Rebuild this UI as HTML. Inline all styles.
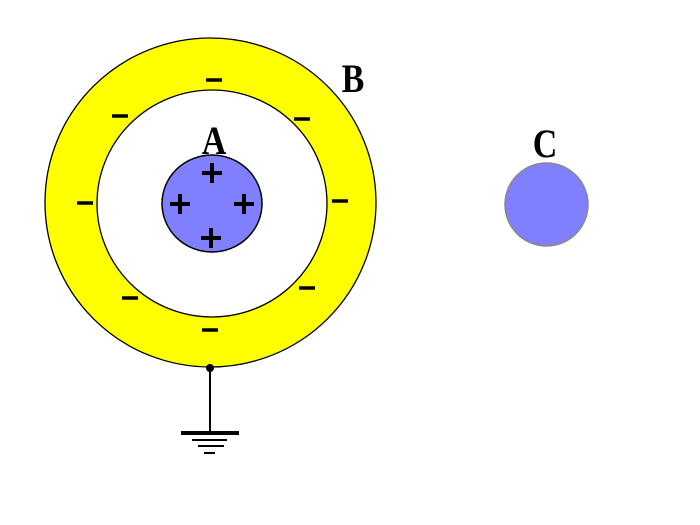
<!DOCTYPE html>
<html><head><meta charset="utf-8"><style>
html,body{margin:0;padding:0;background:#fff;}
svg{display:block;}
text{font-family:"Liberation Serif",serif;font-weight:bold;}
</style></head><body>
<svg width="700" height="525" viewBox="0 0 700 525" xmlns="http://www.w3.org/2000/svg">
<rect width="700" height="525" fill="#fff"/>
<ellipse cx="210.5" cy="202.5" rx="165.5" ry="164.5" fill="#ffff00" stroke="#000" stroke-width="1.3"/>
<ellipse cx="212" cy="203.5" rx="115" ry="113.5" fill="#fff" stroke="#000" stroke-width="1.3"/>
<ellipse cx="212" cy="203.5" rx="50" ry="48.5" fill="#8080ff" stroke="#000" stroke-width="1.5"/>
<ellipse cx="546.5" cy="204.5" rx="41.5" ry="41.5" fill="#8080ff" stroke="#888" stroke-width="1.5"/>
<g stroke="#000" stroke-width="3.5">
<line x1="206" y1="80" x2="222" y2="80"/>
<line x1="112" y1="116" x2="128" y2="116"/>
<line x1="294" y1="119" x2="310" y2="119"/>
<line x1="77" y1="203" x2="93" y2="203"/>
<line x1="332" y1="201" x2="348" y2="201"/>
<line x1="122" y1="298" x2="138" y2="298"/>
<line x1="299" y1="288" x2="315" y2="288"/>
<line x1="202" y1="330" x2="218" y2="330"/>
</g>
<g stroke="#000" stroke-width="4">
<line x1="202" y1="173" x2="222" y2="173"/><line x1="212" y1="163" x2="212" y2="183"/>
<line x1="170" y1="204" x2="190" y2="204"/><line x1="180" y1="194" x2="180" y2="214"/>
<line x1="234" y1="204" x2="254" y2="204"/><line x1="244" y1="194" x2="244" y2="214"/>
<line x1="201" y1="238" x2="221" y2="238"/><line x1="211" y1="228" x2="211" y2="248"/>
</g>
<circle cx="210" cy="368" r="4" fill="#000"/>
<line x1="210" y1="368" x2="210" y2="433" stroke="#000" stroke-width="2"/>
<line x1="181" y1="433" x2="239" y2="433" stroke="#000" stroke-width="4"/>
<line x1="192" y1="440" x2="227" y2="440" stroke="#000" stroke-width="2"/>
<line x1="198" y1="446" x2="224" y2="446" stroke="#000" stroke-width="2"/>
<line x1="204" y1="453" x2="215" y2="453" stroke="#000" stroke-width="2"/>
<text x="353" y="92" font-size="40" text-anchor="middle" transform="translate(353 0) scale(0.85 1) translate(-353 0)">B</text>
<text x="214" y="154" font-size="40" text-anchor="middle" transform="translate(214 0) scale(0.85 1) translate(-214 0)">A</text>
<text x="545" y="157" font-size="40" text-anchor="middle" transform="translate(545 0) scale(0.85 1) translate(-545 0)">C</text>
</svg>
</body></html>
